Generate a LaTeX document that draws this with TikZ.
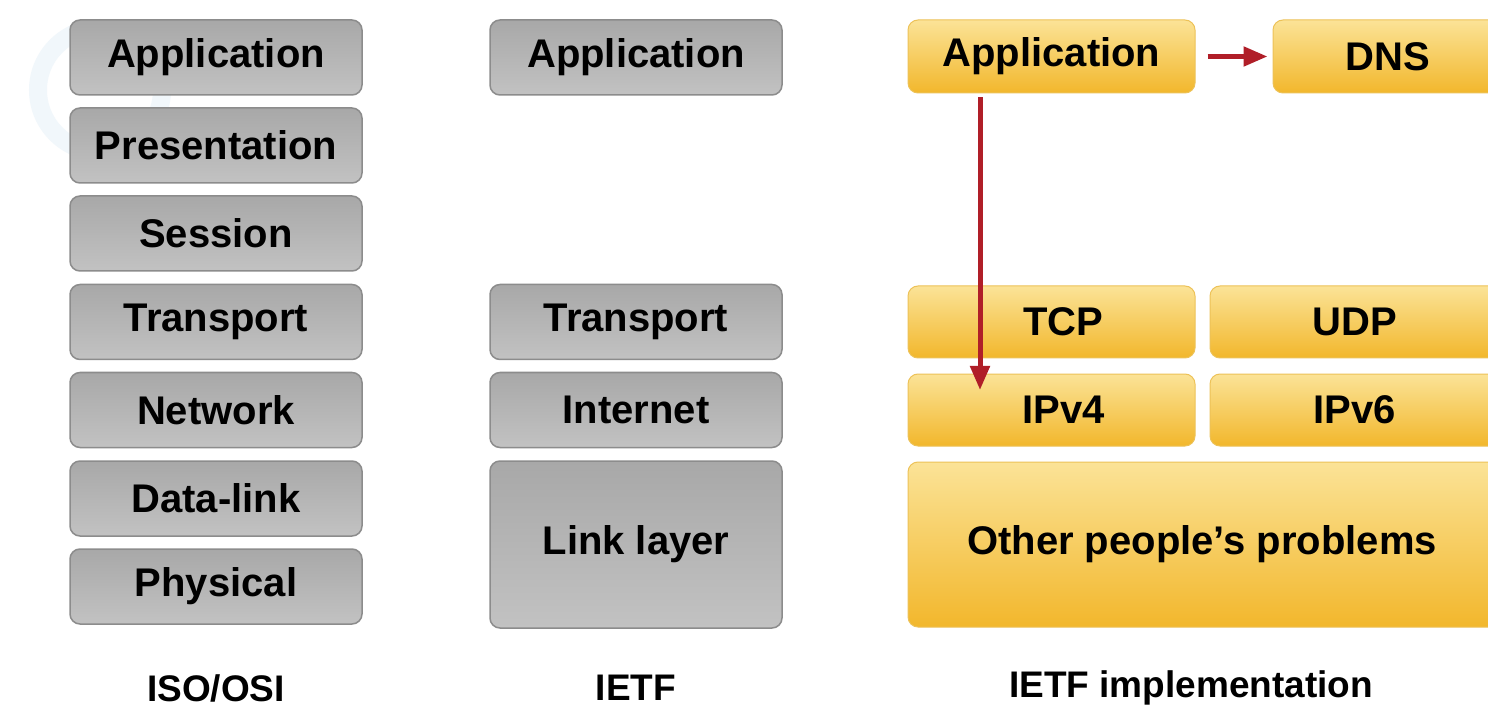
\documentclass[tikz,border=0pt]{standalone}
\usepackage{fontspec}
\setmainfont{Liberation Sans}
\usetikzlibrary{arrows.meta}
\definecolor{graytop}{HTML}{A8A8A8}
\definecolor{graybot}{HTML}{C2C2C2}
\definecolor{grayedge}{HTML}{8C8C8C}
\definecolor{yeltop}{HTML}{FBE397}
\definecolor{yelbot}{HTML}{F2B72C}
\definecolor{yeledge}{HTML}{EDC258}
\definecolor{arrowred}{HTML}{B01E28}
\definecolor{logoblue}{HTML}{F1F7FB}
\tikzset{
  lbl/.style={font=\fontsize{40}{42}\selectfont\bfseries, text=black},
  graybox/.style={lbl, rectangle, rounded corners=10pt, draw=grayedge, line width=1.5pt,
    top color=graytop, bottom color=graybot, minimum width=292pt, minimum height=75pt, inner sep=0pt},
  yelbox/.style={lbl, rectangle, rounded corners=10pt, draw=yeledge, line width=1pt,
    top color=yeltop, bottom color=yelbot, minimum height=73pt, inner sep=0pt},
  redarrow/.style={draw=arrowred, line width=5pt, -{Triangle[length=24pt,width=19pt]}},
  caption/.style={lbl, font=\fontsize{37}{40}\selectfont\bfseries}
}
\begin{document}
\begin{tikzpicture}[x=1pt,y=-1pt]
\useasboundingbox (0,0) rectangle (1488,708);
\clip (0,0) rectangle (1488,708);
\fill[white] (0,0) rectangle (1488,708);
% faint background logo
\draw[logoblue, line width=18pt] (100,90) circle (62);
% ISO/OSI column
\node[graybox] (iapp)  at (216,57.5)  {Application};
\node[graybox] (ipres) at (216,145.5) {Presentation};
\node[graybox] (isess) at (216,233.5) {Session};
\node[graybox] (itran) at (216,322)   {Transport};
\node[graybox] (inet)  at (216,410)   {Network};
\node[graybox] (idl)   at (216,498.5) {Data-link};
\node[graybox] (iphy)  at (216,586.5) {Physical};
% IETF column
\node[graybox] (eapp)  at (636,57.5)  {Application};
\node[graybox] (etran) at (636,322)   {Transport};
\node[graybox] (einet) at (636,410)   {Internet};
\node[graybox, minimum height=167pt] (elink) at (636,544.5) {Link layer};
% IETF implementation column
\node[yelbox, minimum width=287pt] (rapp) at (1051.5,56.5) {Application};
\node[yelbox, minimum width=237pt] (rdns) at (1391.5,56.5) {\hspace*{-8pt}DNS};
\node[yelbox, minimum width=287pt, minimum height=72pt] (rtcp) at (1051.5,322) {\hspace*{24pt}TCP};
\node[yelbox, minimum width=300pt, minimum height=72pt] (rudp) at (1360,322) {\hspace*{-10pt}UDP};
\node[yelbox, minimum width=287pt, minimum height=72pt] (ripv4) at (1051.5,410) {\hspace*{24pt}IPv4};
\node[yelbox, minimum width=300pt, minimum height=72pt] (ripv6) at (1360,410) {\hspace*{-10pt}IPv6};
\node[yelbox, minimum width=602pt, minimum height=165pt] (rother) at (1209,544.5) {\hspace*{-14pt}Other people’s problems};
% arrows
\coordinate (vtip) at (980,390);
\draw[redarrow, shorten <=4pt] (rapp.south -| vtip) -- (vtip);
\draw[redarrow, shorten <=12pt, shorten >=5pt] (rapp.east) -- (rdns.west);
% captions
\node[caption] (cap1) at (216,688) {ISO/OSI};
\node[caption] (cap2) at (636,688) {IETF};
\node[caption] (cap3) at (1191,688) {IETF implementation};
\end{tikzpicture}
\end{document}
